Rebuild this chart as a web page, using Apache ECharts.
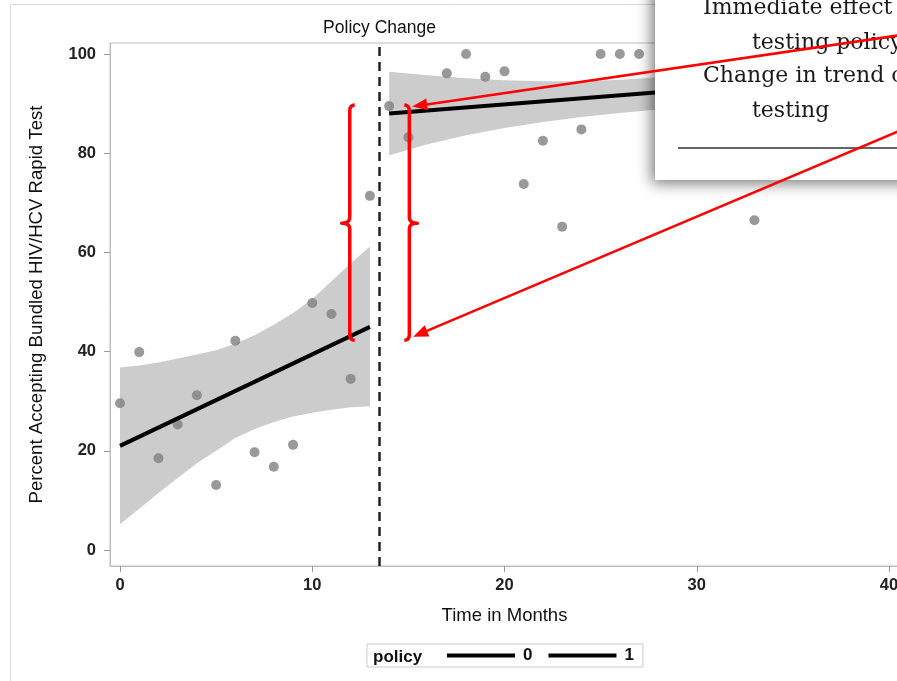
<!DOCTYPE html>
<html>
<head>
<meta charset="utf-8">
<script src="https://cdn.jsdelivr.net/npm/echarts@6/dist/echarts.min.js"></script>
<style>
html,body{margin:0;padding:0;background:#fff;}
#chart{width:897px;height:681px;}
</style>
</head>
<body>
<div id="chart"></div>
<script>
// ---- data ----
const preX  = [0, 1, 2, 3, 4, 5, 6, 7, 8, 9, 10, 11, 12, 13];
const preY  = [29.6, 39.9, 18.5, 25.3, 31.2, 13.1, 42.2, 19.7, 16.8, 21.2, 49.8, 47.6, 34.5, 71.4];
const postX = [14, 15, 17, 18, 19, 20, 21, 22, 23, 24, 25, 26, 27, 33];
const postY = [89.5, 83.2, 96.1, 100, 95.4, 96.5, 73.8, 82.5, 65.2, 84.8, 100, 100, 100, 66.5];

const preFitX  = [0, 13];
const preFitY  = [21.0, 45.0];
const postFitX = [14, 29];
const postFitY = [88.0, 92.6];

const preBandX  = [0, 1, 2, 3, 4, 5, 6, 7, 8, 9, 10, 11, 12, 13];
const preBandUp = [36.8, 37.2, 37.8, 38.6, 39.4, 40.3, 41.6, 43.3, 45.4, 47.8, 50.6, 54.2, 57.8, 61.2];
const preBandLo = [5.2, 8.3, 11.5, 14.5, 17.5, 20.0, 22.6, 24.4, 25.8, 26.9, 27.7, 28.3, 28.8, 29.0];
const postBandX  = [14, 16, 18, 20, 22, 24, 26, 28, 29];
const postBandUp = [96.4, 95.7, 95.1, 94.7, 94.5, 94.5, 94.8, 95.3, 95.6];
const postBandLo = [79.6, 81.8, 83.6, 85.1, 86.3, 87.3, 88.1, 88.8, 89.1];

const policyChangeX = 13.5;
const xTicks = [0, 10, 20, 30, 40];
const yTicks = [0, 20, 40, 60, 80, 100];
const legendNames = ['0', '1'];

// annotation anchors (data coordinates)
const braceLeftX = 11.95, braceRightX = 15.05;
const braceTopY = 89.7, braceMidY = 65.9, braceBotY = 42.3;
const arrowTipTop = [15.2, 89.4];
const arrowTipBot = [15.25, 43.0];

const SANS = '"Liberation Sans", Arial, sans-serif';

const chart = echarts.init(document.getElementById('chart'), null, {renderer: 'canvas'});

function zip(xs, ys) { return xs.map((x, i) => [x, ys[i]]); }

function band(xs, up, lo) {
  return {
    type: 'custom', silent: true, z: 1, data: [[0]],
    renderItem: function (params, api) {
      const pts = [];
      for (let i = 0; i < xs.length; i++) pts.push(api.coord([xs[i], up[i]]));
      for (let i = xs.length - 1; i >= 0; i--) pts.push(api.coord([xs[i], lo[i]]));
      return {type: 'polygon', shape: {points: pts}, style: {fill: '#cccccc'}};
    }
  };
}

const option = {
  animation: false,
  backgroundColor: '#ffffff',
  grid: {left: 110, top: 43, width: 789, height: 523, show: true, borderColor: '#bdbdbd', borderWidth: 1,
         backgroundColor: 'transparent', containLabel: false, outerBoundsMode: 'none'},
  xAxis: {
    type: 'value', min: -0.52, max: 40.52,
    axisLine: {show: true, onZero: false, lineStyle: {color: '#bdbdbd'}},
    axisTick: {show: true, customValues: xTicks, length: 6, lineStyle: {color: '#9a9a9a'}},
    axisLabel: {customValues: xTicks, margin: 11, fontSize: 16.5, fontWeight: 'bold', color: '#222', fontFamily: SANS},
    splitLine: {show: false},
    name: 'Time in Months', nameLocation: 'middle', nameGap: 40,
    nameTextStyle: {fontSize: 18.5, color: '#111', fontFamily: SANS}
  },
  yAxis: {
    type: 'value', min: -3.22, max: 102.22,
    axisLine: {show: true, onZero: false, lineStyle: {color: '#bdbdbd'}},
    axisTick: {show: true, customValues: yTicks, length: 6, lineStyle: {color: '#9a9a9a'}},
    axisLabel: {customValues: yTicks, margin: 14, fontSize: 16.5, fontWeight: 'bold', color: '#222', fontFamily: SANS},
    splitLine: {show: false},
    name: 'Percent Accepting Bundled HIV/HCV Rapid Test', nameLocation: 'middle', nameGap: 64,
    nameTextStyle: {fontSize: 18.6, color: '#111', fontFamily: SANS}
  },
  legend: {
    left: 367, top: 644,
    data: legendNames.map(n => ({name: n, icon: 'rect'})),
    itemWidth: 68, itemHeight: 4, itemGap: 16,
    padding: [3, 9, 3, 80],
    borderColor: '#cccccc', borderWidth: 1,
    textStyle: {fontSize: 17, fontWeight: 'bold', color: '#111', fontFamily: SANS, padding: [0, 0, 0, 3]},
    selectedMode: false
  },
  series: [
    band(preBandX, preBandUp, preBandLo),
    band(postBandX, postBandUp, postBandLo),
    {
      type: 'scatter', name: 'pre', z: 3, symbolSize: 10,
      itemStyle: {color: '#808080'}, data: zip(preX, preY),
      markLine: {
        silent: true, symbol: ['none', 'none'],
        lineStyle: {type: [9, 6], color: '#222', width: 2.5},
        label: {show: true, position: 'end', formatter: 'Policy Change', distance: 6, fontSize: 17.5, color: '#111', fontFamily: SANS},
        data: [{xAxis: policyChangeX}]
      }
    },
    {type: 'scatter', name: 'post', z: 3, symbolSize: 10, itemStyle: {color: '#808080'}, data: zip(postX, postY)},
    {type: 'line', name: legendNames[0], z: 4, symbol: 'none', color: '#000', lineStyle: {width: 4, color: '#000'}, data: zip(preFitX, preFitY)},
    {type: 'line', name: legendNames[1], z: 4, symbol: 'none', color: '#000', lineStyle: {width: 4, color: '#000'}, data: zip(postFitX, postFitY)}
  ]
};
chart.setOption(option);

// ---- annotation overlay ----
function px(p) { return chart.convertToPixel({gridIndex: 0}, p); }

function quad(out, p0, c, p1) {
  for (let k = 1; k <= 8; k++) {
    const t = k / 8, a = (1 - t) * (1 - t), b = 2 * (1 - t) * t, d = t * t;
    out.push([a * p0[0] + b * c[0] + d * p1[0], a * p0[1] + b * c[1] + d * p1[1]]);
  }
}
function bracePoints(x, top, mid, bot, dir) {
  // dir = -1 for '{' (tip to left), +1 for '}' (tip to right)
  const h = 5 * -dir, t = 8 * dir;
  const pts = [[x + h, top]];
  quad(pts, [x + h, top], [x, top], [x, top + 6]);
  pts.push([x, mid - 6]);
  quad(pts, [x, mid - 6], [x, mid], [x + t, mid]);
  quad(pts, [x + t, mid], [x, mid], [x, mid + 6]);
  pts.push([x, bot - 6]);
  quad(pts, [x, bot - 6], [x, bot], [x + h, bot]);
  return pts;
}

function arrow(tail, tip) {
  const dx = tip[0] - tail[0], dy = tip[1] - tail[1];
  const L = Math.sqrt(dx * dx + dy * dy), ux = dx / L, uy = dy / L;
  const len = 15, hw = 6;
  const bx = tip[0] - ux * len, by = tip[1] - uy * len;
  return [
    {type: 'line', z: 120, shape: {x1: tail[0], y1: tail[1], x2: bx + ux * 2, y2: by + uy * 2}, style: {stroke: '#ff0000', lineWidth: 2.5}},
    {type: 'polygon', z: 121, shape: {points: [tip, [bx - uy * hw, by + ux * hw], [bx + uy * hw, by - ux * hw]]}, style: {fill: '#ff0000'}}
  ];
}

const lT = px([braceLeftX, braceTopY]), lM = px([braceLeftX, braceMidY]), lB = px([braceLeftX, braceBotY]);
const rT = px([braceRightX, braceTopY]), rM = px([braceRightX, braceMidY]), rB = px([braceRightX, braceBotY]);
const tipA = px(arrowTipTop), tipB = px(arrowTipBot);

const serif = '22px "DejaVu Serif", serif';
const graphics = [
  {type: 'rect', z: -10, silent: true, shape: {x: 10.5, y: 4.5, width: 1000, height: 1000}, style: {fill: 'none', stroke: '#d9d9d9', lineWidth: 1}},
  {type: 'polyline', z: 110, shape: {points: bracePoints(lT[0], lT[1], lM[1], lB[1], -1)}, style: {fill: 'none', stroke: '#ff0000', lineWidth: 3.5, lineJoin: 'round'}},
  {type: 'polyline', z: 110, shape: {points: bracePoints(rT[0], rT[1], rM[1], rB[1], 1)}, style: {fill: 'none', stroke: '#ff0000', lineWidth: 3.5, lineJoin: 'round'}},
  {type: 'rect', z: 100, shape: {x: 655, y: -40, width: 300, height: 220}, style: {fill: '#ffffff', shadowBlur: 14, shadowColor: 'rgba(0,0,0,0.55)', shadowOffsetX: -3, shadowOffsetY: 3}},
  {type: 'text', z: 101, style: {text: 'Immediate effect of', x: 703, y: 8, verticalAlign: 'middle', font: serif, fill: '#1a1a1a'}},
  {type: 'text', z: 101, style: {text: 'testing policy', x: 752, y: 43, verticalAlign: 'middle', font: serif, fill: '#1a1a1a'}},
  {type: 'text', z: 101, style: {text: 'Change in trend of', x: 703, y: 76, verticalAlign: 'middle', font: serif, fill: '#1a1a1a'}},
  {type: 'text', z: 101, style: {text: 'testing', x: 752, y: 111, verticalAlign: 'middle', font: serif, fill: '#1a1a1a'}},
  {type: 'line', z: 101, shape: {x1: 678, y1: 148, x2: 920, y2: 148}, style: {stroke: '#333', lineWidth: 1.5}},
  {type: 'text', z: 50, style: {text: 'policy', x: 373, y: 657, verticalAlign: 'middle', font: 'bold 17px ' + SANS, fill: '#111'}}
].concat(arrow([925, tipA[1] - 0.1464 * (925 - tipA[0])], tipA))
 .concat(arrow([925, tipB[1] - 0.4236 * (925 - tipB[0])], tipB));

chart.setOption({graphic: graphics});
</script>
</body>
</html>
